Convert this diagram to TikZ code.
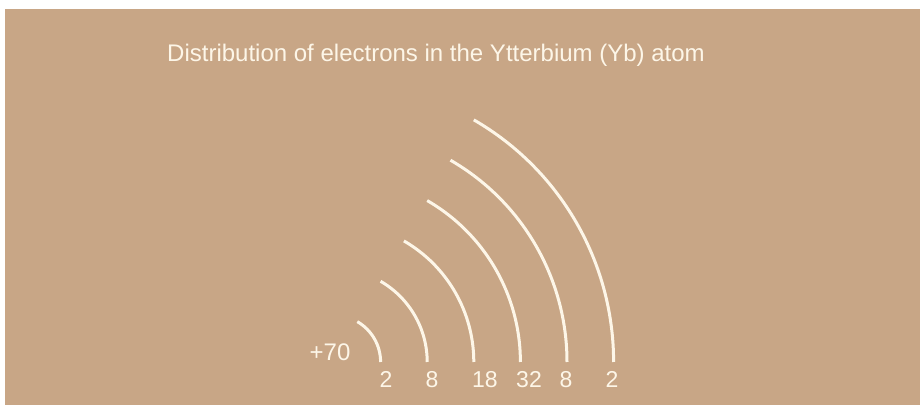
\documentclass[tikz,border=0pt]{standalone}
\usepackage{fontspec}
\setmainfont{Liberation Sans}
\usepackage{tikz}
\usetikzlibrary{calc}
\definecolor{tan}{HTML}{C8A686}
\definecolor{cream}{HTML}{FDF6E8}
\newcommand{\bigtext}{\fontsize{24}{28}\selectfont}
\newcommand{\numtext}{\fontsize{23}{27}\selectfont}

\begin{document}
\begin{tikzpicture}[x=1pt,y=1pt,
    shell/.style={draw=cream,line width=3pt},
    lbl/.style={text=cream,inner sep=0pt,anchor=base,font=\numtext}]
    \useasboundingbox[fill=white] (0,0) rectangle (922,407);
    \fill[tan] (5,2) rectangle (920,398);
    \node[text=cream,inner sep=0pt,anchor=base,font=\bigtext] (title) at (436,345)
      {Distribution of electrons in the Ytterbium (Yb) atom};
    \coordinate (nucleus) at (334,45);
    \node[lbl,font=\bigtext] (charge) at (330,46) {+70};
    % shells
    \foreach \k in {1,...,6}
      \draw[shell] ($(nucleus)+(46.6*\k,0)$) arc[start angle=0,end angle=60,radius=46.6*\k];
    % electrons per shell
    \node[lbl] (n1) at (386,19) {2};
    \node[lbl] (n2) at (432,19) {8};
    \node[lbl] (n3) at (485,19) {18};
    \node[lbl] (n4) at (529,19) {32};
    \node[lbl] (n5) at (566,19) {8};
    \node[lbl] (n6) at (612,19) {2};
  \end{tikzpicture}
\end{document}
